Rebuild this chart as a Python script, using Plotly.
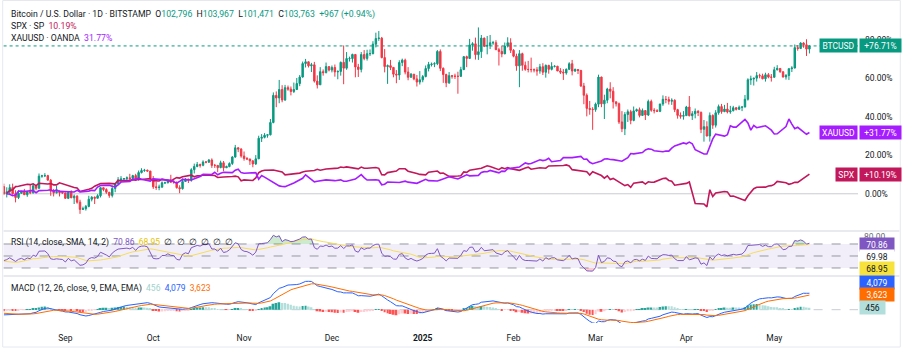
import numpy as np
import pandas as pd
import plotly.graph_objects as go

# ---------------- data ----------------
BTC_START = "2024-08-11"
WARMUP_START = "2024-07-01"

# BTCUSD (Bitstamp) daily, thousand USD, 2024-08-11 .. 2025-05-13
btc_close = [
    58.72, 59.35, 60.60, 58.74, 57.56, 58.87, 59.49, 58.43, 59.49, 59.01, 61.16, 60.38, 64.09, 64.18, 64.25, 62.87, 59.50, 59.03, 59.38, 59.12, 58.97,
    57.33, 59.12, 57.49, 57.97, 56.16, 53.96, 54.16, 54.87, 57.05, 57.65, 57.35, 58.13, 60.57, 60.01, 59.19, 58.21, 60.31, 61.76, 62.95, 63.20, 63.35, 63.58, 63.33, 64.26, 63.14, 65.18, 65.79, 65.89, 65.63, 63.33,
    60.84, 60.63, 60.75, 62.07, 62.07, 62.82, 62.22, 62.13, 60.58, 60.27, 62.45, 63.19, 62.85, 66.05, 67.04, 67.61, 67.39, 68.39, 68.36, 69.00, 67.37, 67.37, 66.68, 68.16, 66.64, 67.01, 67.93, 69.91, 72.72, 72.34, 70.22,
    69.48, 69.31, 68.74, 67.81, 69.36, 75.63, 75.91, 76.54, 76.69, 80.42, 88.70, 87.91, 90.49, 87.32, 91.05, 90.60, 89.88, 90.49, 92.31, 94.29, 98.38, 98.93, 97.70, 98.00, 93.04, 91.92, 95.92, 95.63, 97.46, 96.41,
    97.20, 95.85, 96.00, 98.76, 96.99, 99.92, 99.92, 101.17, 97.37, 96.60, 101.13, 99.96, 101.40, 101.41, 104.30, 106.03, 106.14, 100.20, 97.46, 97.76, 97.22, 95.16, 94.90, 98.70, 99.43, 95.80, 94.21, 95.16, 93.72, 92.76, 93.43,
    94.42, 96.89, 98.11, 98.24, 98.35, 102.08, 96.95, 95.04, 92.51, 94.70, 94.55, 94.51, 94.50, 96.53, 100.50, 99.96, 104.08, 104.41, 101.11, 102.02, 106.15, 103.68, 103.92, 104.72, 104.75, 102.62, 102.08, 101.33, 103.73, 104.74, 102.41,
    100.64, 97.69, 101.40, 97.87, 96.62, 96.59, 96.53, 96.47, 96.15, 97.41, 95.75, 97.84, 96.62, 97.51, 97.57, 96.13, 95.77, 95.54, 96.64, 98.33, 96.12, 96.58, 96.27, 91.55, 88.74, 84.73, 84.44, 84.37,
    86.03, 94.27, 86.12, 87.22, 90.62, 89.96, 86.74, 86.15, 80.60, 78.53, 82.86, 83.72, 81.07, 83.97, 84.34, 82.58, 84.08, 82.72, 86.85, 84.17, 84.04, 83.83, 86.08, 87.50, 87.42, 86.90, 87.21, 84.35, 82.60, 82.34, 82.53,
    85.15, 82.50, 83.10, 83.84, 83.50, 78.35, 79.16, 76.32, 82.60, 79.60, 83.40, 85.28, 83.74, 84.54, 83.65, 84.03, 84.93, 84.45, 85.06, 85.17, 87.52, 93.44, 93.69, 93.94, 94.72, 94.65, 93.75, 94.98, 94.28, 94.21,
    96.49, 96.91, 95.89, 94.31, 94.75, 96.83, 97.03, 103.24, 102.97, 104.64, 104.12, 102.79, 103.763,
]
btc_high = [
    61.8, 60.7, 61.6, 61.8, 59.8, 59.8, 59.6, 60.2, 59.6, 61.4, 61.8, 61.4, 64.9, 64.5, 65.0, 64.5, 63.2, 60.2, 61.1, 59.8, 59.4,
    59.0, 59.4, 59.8, 58.5, 58.3, 56.9, 54.8, 55.3, 58.1, 58.0, 57.9, 58.6, 60.7, 60.6, 60.4, 59.2, 61.3, 61.8, 63.8, 64.1, 63.5, 64.0, 64.8, 64.5, 64.8, 65.8, 66.5, 66.3, 66.1, 65.7,
    64.1, 62.4, 61.5, 62.5, 62.4, 63.0, 64.5, 63.2, 62.5, 61.3, 63.4, 63.5, 63.3, 66.5, 67.9, 68.4, 67.9, 68.9, 68.7, 69.3, 69.5, 67.8, 67.5, 68.8, 68.7, 67.3, 68.3, 70.2, 73.6, 72.9, 72.6,
    71.6, 69.9, 69.4, 69.0, 70.5, 76.4, 76.9, 77.2, 76.9, 81.5, 89.6, 89.9, 93.4, 91.8, 91.9, 91.7, 91.4, 92.6, 94.0, 94.9, 99.0, 99.8, 99.0, 98.6, 98.9, 94.8, 97.3, 96.6, 98.7, 97.5,
    97.8, 98.1, 96.3, 99.0, 103.9, 101.9, 100.5, 101.4, 101.2, 98.3, 101.9, 102.5, 102.6, 102.7, 105.2, 107.8, 108.3, 106.5, 102.8, 98.1, 99.5, 97.3, 96.4, 99.4, 99.9, 99.9, 97.3, 95.5, 95.2, 94.9, 96.1,
    94.9, 97.8, 98.9, 98.7, 98.8, 102.5, 102.7, 97.2, 95.3, 95.8, 94.9, 95.3, 95.9, 97.4, 100.7, 100.8, 105.9, 104.9, 106.3, 109.4, 107.1, 106.3, 106.8, 107.1, 105.3, 105.5, 103.2, 103.8, 104.8, 106.4, 106.1,
    102.8, 101.4, 102.5, 101.7, 99.0, 99.2, 100.2, 96.9, 97.3, 98.3, 98.5, 98.1, 98.0, 98.8, 97.9, 97.7, 97.0, 96.7, 96.9, 98.8, 99.5, 96.9, 96.7, 96.5, 92.5, 89.3, 87.0, 85.1,
    86.5, 95.0, 94.4, 88.9, 91.0, 92.7, 91.2, 86.8, 86.5, 83.9, 83.6, 84.4, 84.3, 85.3, 84.7, 85.0, 84.7, 84.1, 87.4, 87.4, 84.8, 84.5, 86.1, 88.7, 88.5, 88.3, 87.8, 87.5, 84.6, 83.5, 83.9,
    85.5, 88.5, 83.9, 84.7, 84.2, 83.8, 81.2, 80.8, 83.5, 82.9, 84.2, 85.9, 86.1, 85.8, 86.4, 85.5, 85.5, 85.1, 85.6, 85.3, 88.8, 93.9, 94.7, 94.0, 95.8, 95.3, 95.3, 95.6, 95.5, 95.2,
    97.4, 97.9, 97.0, 96.0, 95.2, 96.9, 97.6, 104.2, 104.0, 104.9, 104.9, 105.8, 103.967,
]
btc_low = [
    58.3, 57.6, 58.5, 58.4, 56.1, 57.1, 58.8, 58.4, 57.8, 58.6, 58.8, 59.8, 60.3, 63.6, 63.8, 62.8, 58.1, 57.9, 58.8, 57.9, 58.7,
    57.2, 57.1, 57.4, 55.6, 55.7, 52.6, 53.8, 53.6, 54.6, 56.4, 55.6, 57.3, 57.6, 59.5, 58.7, 57.5, 57.6, 59.2, 61.6, 62.4, 62.8, 62.4, 62.7, 62.8, 62.7, 62.7, 64.9, 65.4, 65.5, 62.9,
    60.2, 59.9, 59.8, 60.5, 61.7, 61.9, 62.1, 61.8, 60.3, 58.9, 60.0, 62.4, 62.0, 62.4, 64.9, 66.8, 66.7, 67.1, 68.0, 68.1, 66.6, 66.6, 65.3, 66.5, 65.6, 66.6, 66.8, 67.5, 69.7, 71.4, 69.7,
    68.8, 69.0, 67.5, 66.8, 67.5, 69.3, 74.5, 75.6, 75.8, 76.5, 80.2, 85.1, 86.3, 86.6, 87.0, 90.1, 88.7, 89.4, 90.8, 91.5, 94.1, 97.2, 97.2, 95.8, 92.6, 90.8, 91.9, 94.7, 95.4, 96.0,
    95.7, 94.4, 93.6, 94.7, 92.1, 96.5, 99.0, 98.7, 94.2, 94.3, 95.7, 99.4, 99.3, 100.7, 101.2, 103.3, 105.3, 100.0, 95.7, 92.2, 96.4, 94.2, 92.4, 93.4, 97.6, 95.1, 93.3, 94.1, 93.3, 91.4, 92.0,
    92.7, 94.2, 96.0, 97.5, 97.3, 97.9, 96.1, 92.5, 91.2, 92.2, 93.8, 93.7, 89.2, 94.3, 96.5, 97.3, 99.8, 102.3, 99.6, 99.5, 100.1, 103.4, 101.2, 102.8, 104.1, 102.5, 97.8, 100.3, 101.3, 103.3, 101.6,
    100.3, 96.2, 91.2, 96.2, 96.2, 95.7, 95.7, 95.7, 94.7, 95.3, 94.9, 94.1, 95.3, 96.3, 97.2, 96.1, 95.2, 93.4, 95.0, 96.4, 94.8, 95.8, 95.2, 91.3, 86.0, 82.3, 82.8, 78.2,
    83.7, 85.1, 85.1, 81.5, 86.3, 87.8, 84.7, 85.3, 80.0, 77.5, 76.6, 80.6, 79.9, 80.8, 83.7, 82.0, 82.4, 81.2, 82.4, 83.7, 83.2, 83.7, 83.6, 85.5, 86.3, 85.9, 85.8, 83.6, 81.6, 81.6, 81.3,
    82.4, 82.3, 81.2, 81.7, 82.4, 77.2, 74.6, 76.2, 74.6, 78.5, 78.9, 82.8, 83.1, 83.6, 83.2, 83.1, 83.8, 84.1, 84.3, 83.9, 85.0, 87.1, 91.9, 91.7, 92.9, 93.9, 93.6, 92.9, 93.9, 92.9,
    94.1, 96.3, 95.6, 94.1, 93.5, 93.4, 95.8, 96.9, 102.3, 102.8, 103.2, 100.7, 101.471,
]
# earlier closes (2024-07-01 .. 2024-08-10), only used to warm up RSI / MACD
warmup_close = [
    62.9, 62.1, 60.2, 57.0, 56.6, 58.2, 55.9, 56.7, 58.0, 57.7, 57.3, 57.9, 59.2, 60.8, 64.8, 65.1, 64.1, 63.9, 66.7, 67.2, 68.2,
    67.6, 65.9, 65.4, 65.8, 67.9, 67.8, 68.3, 66.8, 66.2, 64.6, 65.3, 61.5, 60.7, 58.1, 54.0, 56.0, 55.1, 61.7, 60.9, 60.9,
]

# SPX daily closes from 2024-08-12 (US trading days)
spx_close = [
    5344.39, 5434.43, 5455.21, 5543.22, 5554.25, 5608.25, 5597.12, 5620.85, 5570.64, 5634.61, 5616.84, 5625.80, 5592.18, 5591.96, 5648.40,
    5528.93, 5520.07, 5503.41, 5408.42, 5471.05, 5495.52, 5554.13, 5595.76, 5626.02, 5633.09, 5634.58, 5618.26, 5713.64, 5702.55, 5718.57, 5732.93, 5722.26, 5745.37, 5738.17, 5762.48,
    5708.75, 5709.54, 5699.94, 5751.07, 5695.94, 5751.13, 5792.04, 5780.05, 5815.03, 5859.85, 5815.26, 5842.47, 5841.47, 5864.67, 5853.98, 5851.20, 5797.42, 5809.86, 5808.12, 5823.52, 5832.92, 5813.67, 5705.45,
    5728.80, 5712.69, 5782.76, 5929.04, 5973.10, 5995.54, 6001.35, 5983.99, 5985.38, 5949.17, 5870.62, 5893.62, 5916.98, 5917.11, 5948.71, 5969.34, 5987.37, 6021.63, 5998.74, 6032.38,
    6047.15, 6049.88, 6086.49, 6075.11, 6090.27, 6052.85, 6034.91, 6084.19, 6051.25, 6051.09, 6074.08, 6050.61, 5872.16, 5867.08, 5930.85, 5974.07, 6040.04, 6037.59, 5970.84, 5906.94, 5881.63,
    5868.55, 5942.47, 5975.38, 5909.03, 5918.25, 5827.04, 5836.22, 5842.91, 5949.91, 5937.34, 5996.66, 6049.24, 6086.37, 6118.71, 6101.24, 6012.28, 6067.70, 6039.31, 6071.17, 6040.53,
    5994.57, 6037.88, 6061.48, 6083.57, 6025.99, 6066.44, 6068.50, 6051.97, 6115.07, 6114.63, 6129.58, 6144.15, 6117.52, 6013.13, 5983.25, 5955.25, 5956.06, 5861.57, 5954.50,
    5849.72, 5778.15, 5842.63, 5738.52, 5770.20, 5614.56, 5572.07, 5599.30, 5521.52, 5638.94, 5675.12, 5614.66, 5675.29, 5662.89, 5667.56, 5767.57, 5776.65, 5712.20, 5693.31, 5580.94, 5611.85,
    5633.07, 5670.97, 5396.52, 5074.08, 5062.25, 4982.77, 5456.90, 5268.05, 5363.36, 5405.97, 5396.63, 5275.70, 5282.70, 5158.20, 5287.76, 5375.86, 5484.77, 5525.21, 5528.75, 5560.83, 5569.06,
    5604.14, 5686.67, 5650.38, 5606.91, 5631.28, 5663.94, 5659.91, 5844.19, 5889.0,
]
spx_holidays = ["2024-09-02", "2024-11-28", "2024-12-25", "2025-01-01", "2025-01-09", "2025-01-20", "2025-02-17", "2025-04-18"]

# XAUUSD (OANDA) daily closes from 2024-08-12
xau_close = [
    2472, 2465, 2447, 2456, 2508, 2504, 2514, 2512, 2485, 2512, 2518, 2524, 2504, 2521, 2503,
    2500, 2493, 2495, 2516, 2497, 2506, 2516, 2512, 2558, 2578, 2582, 2569, 2559, 2587, 2622, 2629, 2657, 2657, 2672, 2658, 2634,
    2663, 2657, 2656, 2653, 2644, 2622, 2608, 2631, 2657, 2649, 2662, 2674, 2692, 2721, 2720, 2748, 2716, 2736, 2747, 2743, 2774, 2788, 2743,
    2736, 2736, 2743, 2659, 2706, 2685, 2619, 2598, 2573, 2565, 2563, 2611, 2631, 2651, 2670, 2715, 2625, 2633, 2638, 2638, 2650,
    2640, 2643, 2650, 2632, 2633, 2660, 2694, 2718, 2680, 2648, 2652, 2646, 2587, 2594, 2622, 2612, 2617, 2634, 2621, 2606, 2624,
    2658, 2640, 2636, 2649, 2662, 2670, 2690, 2662, 2677, 2697, 2715, 2702, 2708, 2745, 2756, 2755, 2771, 2740, 2763, 2760, 2794, 2798,
    2815, 2843, 2867, 2856, 2861, 2908, 2897, 2905, 2928, 2883, 2898, 2935, 2933, 2939, 2936, 2952, 2915, 2916, 2876, 2857,
    2893, 2918, 2920, 2911, 2910, 2889, 2916, 2934, 2988, 2984, 3001, 3034, 3048, 3044, 3023, 3011, 3020, 3019, 3058, 3085, 3124,
    3113, 3134, 3114, 3037, 2982, 2983, 3083, 3175, 3237, 3211, 3230, 3343, 3327, 3327, 3425, 3381, 3288, 3349, 3319, 3344, 3317, 3288,
    3239, 3241, 3334, 3431, 3366, 3306, 3325, 3235, 3257.3,
]
xau_holidays = ["2024-12-25", "2025-01-01"]

month_ticks = ["2024-09-01", "2024-10-01", "2024-11-01", "2024-12-01", "2025-01-01",
               "2025-02-01", "2025-03-01", "2025-04-01", "2025-05-01"]
month_labels = ["Sep", "Oct", "Nov", "Dec", "<b>2025</b>", "Feb", "Mar", "Apr", "May"]

# ---------------- derived ----------------
btc_dates = pd.date_range(BTC_START, periods=len(btc_close), freq="D")
btc_open = [warmup_close[-1]] + btc_close[:-1]   # 24/7 market: open = prior close
btc_open[-1] = 102.796
base = btc_close[0]


def pct(v, b):
    return (np.asarray(v, dtype=float) / b - 1.0) * 100.0


spx_dates = pd.bdate_range("2024-08-12", "2025-05-13", freq="C", holidays=spx_holidays)
xau_dates = pd.bdate_range("2024-08-12", "2025-05-13", freq="C", holidays=xau_holidays)
n = min(len(spx_dates), len(spx_close)); spx_dates = spx_dates[:n]; spx_c = spx_close[:n]
m = min(len(xau_dates), len(xau_close)); xau_dates = xau_dates[:m]; xau_c = xau_close[:m]

spx_pct = pct(spx_c, spx_c[0])
xau_pct = pct(xau_c, xau_c[0])
btc_last_pct = pct([btc_close[-1]], base)[0]

# indicators (price units, like TradingView)
full = pd.Series([v * 1000 for v in warmup_close + btc_close],
                 index=pd.date_range(WARMUP_START, periods=len(warmup_close) + len(btc_close), freq="D"))
d = full.diff()
up = d.clip(lower=0).ewm(alpha=1 / 14, adjust=False).mean()
dn = (-d.clip(upper=0)).ewm(alpha=1 / 14, adjust=False).mean()
rsi = 100 - 100 / (1 + up / dn)
rsi_ma = rsi.rolling(14).mean()
macd = full.ewm(span=12, adjust=False).mean() - full.ewm(span=26, adjust=False).mean()
signal = macd.ewm(span=9, adjust=False).mean()
hist = macd - signal
rsi, rsi_ma, macd, signal, hist = [s[BTC_START:] for s in (rsi, rsi_ma, macd, signal, hist)]
hist_prev = hist.shift(1)
hist_col = []
for h, p in zip(hist.values, hist_prev.values):
    if h >= 0:
        hist_col.append("#26a69a" if (np.isnan(p) or h >= p) else "#b2dfdb")
    else:
        hist_col.append("#ffcdd2" if (not np.isnan(p) and h > p) else "#ff5252")

# ---------------- figure ----------------
W, H = 903, 351
FONT = "Roboto"
TXT = "#131722"
TEAL, RED = "#089981", "#f23645"
SPXC, XAUC = "#c2185b", "#a51cff"


def py(px):  # pixel row -> paper y
    return 1 - px / H


def pxx(px):
    return px / W


fig = go.Figure()

fig.add_trace(go.Candlestick(
    x=btc_dates, open=pct(btc_open, base), high=pct(btc_high, base),
    low=pct(btc_low, base), close=pct(btc_close, base),
    increasing=dict(line=dict(color=TEAL, width=1), fillcolor=TEAL),
    decreasing=dict(line=dict(color=RED, width=1), fillcolor=RED),
    whiskerwidth=0, xaxis="x", yaxis="y", showlegend=False, hoverinfo="skip"))
fig.add_trace(go.Scatter(x=spx_dates, y=spx_pct, mode="lines", line=dict(color=SPXC, width=1.6),
                         xaxis="x", yaxis="y", showlegend=False, hoverinfo="skip"))
fig.add_trace(go.Scatter(x=xau_dates, y=xau_pct, mode="lines", line=dict(color=XAUC, width=1.6),
                         xaxis="x", yaxis="y", showlegend=False, hoverinfo="skip"))

# RSI pane
r = rsi.values
fig.add_trace(go.Scatter(x=rsi.index, y=np.full(len(r), 70.0), mode="lines", line=dict(width=0),
                         xaxis="x2", yaxis="y2", showlegend=False, hoverinfo="skip"))
fig.add_trace(go.Scatter(x=rsi.index, y=np.maximum(r, 70.0), mode="lines", line=dict(width=0),
                         fill="tonexty", fillcolor="rgba(76,175,80,0.28)",
                         xaxis="x2", yaxis="y2", showlegend=False, hoverinfo="skip"))
fig.add_trace(go.Scatter(x=rsi.index, y=np.full(len(r), 30.0), mode="lines", line=dict(width=0),
                         xaxis="x2", yaxis="y2", showlegend=False, hoverinfo="skip"))
fig.add_trace(go.Scatter(x=rsi.index, y=np.minimum(r, 30.0), mode="lines", line=dict(width=0),
                         fill="tonexty", fillcolor="rgba(242,54,69,0.25)",
                         xaxis="x2", yaxis="y2", showlegend=False, hoverinfo="skip"))
fig.add_trace(go.Scatter(x=rsi_ma.index, y=rsi_ma.values, mode="lines", line=dict(color="#f5dc5a", width=1),
                         xaxis="x2", yaxis="y2", showlegend=False, hoverinfo="skip"))
fig.add_trace(go.Scatter(x=rsi.index, y=r, mode="lines", line=dict(color="#7e57c2", width=1),
                         xaxis="x2", yaxis="y2", showlegend=False, hoverinfo="skip"))

# MACD pane
fig.add_trace(go.Bar(x=hist.index, y=hist.values, marker=dict(color=hist_col, line=dict(width=0)),
                     xaxis="x3", yaxis="y3", showlegend=False, hoverinfo="skip"))
fig.add_trace(go.Scatter(x=macd.index, y=macd.values, mode="lines", line=dict(color="#2962ff", width=1),
                         xaxis="x3", yaxis="y3", showlegend=False, hoverinfo="skip"))
fig.add_trace(go.Scatter(x=signal.index, y=signal.values, mode="lines", line=dict(color="#ff6d00", width=1),
                         xaxis="x3", yaxis="y3", showlegend=False, hoverinfo="skip"))

macd_max = float(np.nanmax(macd.values))
ppu = (309.7 - 281.3) / macd_max  # pixels per unit
macd_range = [-(323 - 309.7) / ppu, (309.7 - 277) / ppu]

X0, X1 = pxx(3.6), pxx(858)
xr = ["2024-08-10 22:00", "2025-05-29 14:00"]
common_x = dict(range=xr, type="date", showgrid=False, zeroline=False, showline=False,
                rangeslider=dict(visible=False), fixedrange=True)

fig.update_layout(
    width=W, height=H, margin=dict(l=0, r=0, t=0, b=0),
    paper_bgcolor="white", plot_bgcolor="white",
    font=dict(family=FONT, size=8.5, color=TXT),
    bargap=0.35, showlegend=False,
    xaxis=dict(domain=[X0, X1], anchor="y", showticklabels=False, **common_x),
    xaxis2=dict(domain=[X0, X1], anchor="y2", matches="x", showticklabels=False, **common_x),
    xaxis3=dict(domain=[X0, X1], anchor="y3", matches="x", tickvals=month_ticks, ticktext=month_labels,
                ticks="", ticklabelstandoff=8, tickfont=dict(size=8.5, color=TXT, family=FONT), **common_x),
    yaxis=dict(domain=[py(230), py(2)], range=[-18.8, 99.5], side="right", anchor="x",
               tickvals=[0, 20, 40, 60, 80], ticktext=["0.00%", "20.00%", "40.00%", "60.00%", "80.00%"],
               ticks="", ticklabelstandoff=6, showgrid=False, zeroline=False, showline=False,
               tickfont=dict(size=8.5, color=TXT, family=FONT), fixedrange=True),
    yaxis2=dict(domain=[py(275), py(232)], range=[18.3, 90], side="right", anchor="x2",
                showticklabels=False, showgrid=False, zeroline=False, fixedrange=True),
    yaxis3=dict(domain=[py(323), py(277)], range=macd_range, side="right", anchor="x3",
                showticklabels=False, showgrid=False, zeroline=False, fixedrange=True),
)

shapes = []
# zero line & current price dotted line (main)
shapes.append(dict(type="line", xref="paper", yref="y", x0=X0, x1=X1, y0=0, y1=0,
                   line=dict(color="#c9ccd3", width=1), layer="below"))
shapes.append(dict(type="line", xref="paper", yref="y", x0=X0, x1=X1, y0=btc_last_pct, y1=btc_last_pct,
                   line=dict(color=TEAL, width=1, dash="dot"), layer="below"))
# RSI band
shapes.append(dict(type="rect", xref="paper", yref="y2", x0=X0, x1=X1, y0=30, y1=70,
                   fillcolor="rgba(126,87,194,0.10)", line=dict(width=0), layer="below"))
for lv in (70, 50, 30):
    shapes.append(dict(type="line", xref="paper", yref="y2", x0=X0, x1=X1, y0=lv, y1=lv,
                       line=dict(color="#9598a1", width=1, dash="dash"), layer="below"))
# MACD zero
shapes.append(dict(type="line", xref="paper", yref="y3", x0=X0, x1=X1, y0=0, y1=0,
                   line=dict(color="#c9ccd3", width=1, dash="dash"), layer="below"))
# pane separators and frame
for yy in (231, 276):
    shapes.append(dict(type="line", xref="paper", yref="paper", x0=0.004, x1=0.996, y0=py(yy), y1=py(yy),
                       line=dict(color="#e0e3eb", width=1.5)))
shapes.append(dict(type="rect", xref="paper", yref="paper", x0=0.003, x1=0.997, y0=py(347), y1=py(0.5),
                   line=dict(color="#e6e8ee", width=1), fillcolor="rgba(0,0,0,0)"))
fig.update_layout(shapes=shapes)

ann = []


def txt(x, y, s, color=TXT, size=8.5, xanchor="left", yref="paper", bg=None, width=None, fc=None, **kw):
    d = dict(x=x, y=y, xref="paper", yref=yref, text=s, showarrow=False, xanchor=xanchor, yanchor="middle",
             font=dict(family=FONT, size=size, color=fc or color), align="center" if bg else "left")
    if bg:
        d.update(bgcolor=bg, borderpad=1.5)
    if width:
        d["width"] = width
    d.update(kw)
    ann.append(d)


G = TEAL
SP = "&nbsp; "
line1 = ("Bitcoin / U.S. Dollar · 1D · BITSTAMP" + SP +
         f"O<span style='color:{G}'>102,796</span>{SP}H<span style='color:{G}'>103,967</span>{SP}"
         f"L<span style='color:{G}'>101,471</span>{SP}C<span style='color:{G}'>103,763</span>{SP}"
         f"<span style='color:{G}'>+967 (+0.94%)</span>")
txt(pxx(9), py(14), line1, size=8.7)
spx_last = spx_pct[-1]
xau_last = xau_pct[-1]
txt(pxx(9), py(26), f"SPX · SP  <span style='color:{SPXC}'>{spx_last:.2f}%</span>", size=8.7)
txt(pxx(9), py(38), f"XAUUSD · OANDA  <span style='color:{XAUC}'>{xau_last:.2f}%</span>", size=8.7)

# right-side value labels (main pane)
for name, val, col, wname in (("BTCUSD", btc_last_pct, TEAL, 34), ("XAUUSD", xau_last, XAUC, 34),
                              ("SPX", spx_last, SPXC, 18)):
    txt(pxx(857.5), val, name, yref="y", bg=col, fc="white", xanchor="right", width=wname)
    txt(pxx(858.5), val, f"{val:+.2f}%", yref="y", bg=col, fc="white", xanchor="left", width=38)

# RSI legend and labels
txt(pxx(9), py(242), "RSI (14, close, SMA, 14, 2)  <span style='color:#7e57c2'>70.86</span>  "
    "<span style='color:#e8c400'>68.95</span>  ∅  ∅  ∅  ∅  ∅  ∅")
txt(pxx(862), py(236.5), "80.00", color="#6a6d78")
txt(pxx(858.5), py(244), "70.86", bg="#7e57c2", fc="white", width=31)
txt(pxx(858.5), py(256.5), "69.98", bg="white", fc=TXT, width=31)
txt(pxx(858.5), py(268.3), "68.95", bg="#f7e13b", fc=TXT, width=31)

# MACD legend and labels
txt(pxx(9), py(288), "MACD (12, 26, close, 9, EMA, EMA)  <span style='color:#9fd3cd'>456</span>  "
    "<span style='color:#2962ff'>4,079</span>  <span style='color:#ff6d00'>3,623</span>")
txt(pxx(858.5), py(282.7), "4,079", bg="#2962ff", fc="white", width=31)
txt(pxx(858.5), py(294.3), "3,623", bg="#ff6d00", fc="white", width=31)
txt(pxx(858.5), py(307.7), "456", bg="#b2dfdb", fc=TXT, width=22)

fig.update_layout(annotations=ann)
fig.write_html("out.html")
